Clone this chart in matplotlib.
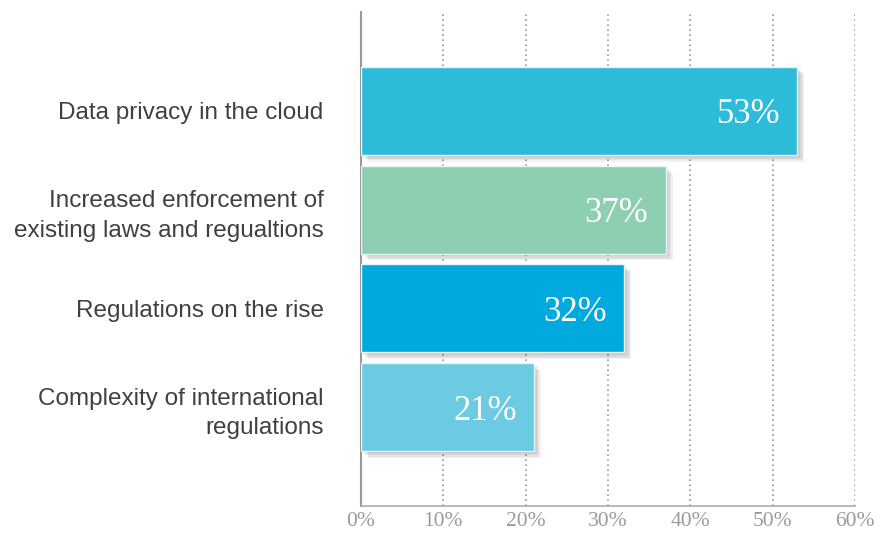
import matplotlib
matplotlib.use("Agg")
import matplotlib.pyplot as plt
import matplotlib.patheffects as pe
from matplotlib.ticker import FuncFormatter

categories = [
    "Data privacy in the cloud",
    "Increased enforcement of\nexisting laws and regualtions",
    "Regulations on the rise",
    "Complexity of international\nregulations",
]
values = [53, 37, 32, 21]
colours = ["#2cbcd9", "#8ecfb1", "#00aadf", "#6ccae2"]
x_ticks = [0, 10, 20, 30, 40, 50, 60]

fig = plt.figure(figsize=(8.78, 5.33), dpi=100)
ax = fig.add_axes([0.4112, 0.0507, 0.5626, 0.9268])

ypos = list(range(len(categories)))
bars = ax.barh(ypos, values, height=0.89, color=colours,
               edgecolor="#e8f4f7", linewidth=1.0, zorder=3)
# soft drop shadow, built from a few faint offset copies
shadow = [pe.SimplePatchShadow(offset=(d, -d), shadow_rgbFace="#444444", alpha=0.07)
          for d in (1, 2, 3, 4, 5)]
for b in bars:
    b.set_path_effects(shadow + [pe.Normal()])

for y, v in zip(ypos, values):
    ax.text(v - 2.1, y + 0.04, f"{v}%", ha="right", va="center",
            color="white", fontsize=25, family="Liberation Serif", zorder=4)

ax.set_xlim(0, 60)
ax.set_ylim(4, -1)
ax.set_xticks(x_ticks)
ax.xaxis.set_major_formatter(FuncFormatter(lambda v, p: f"{int(v)}%"))
ax.set_yticks(ypos)
ax.set_yticklabels(categories, fontsize=17.5, color="#404040",
                   family="Liberation Sans", linespacing=1.45)
ax.tick_params(axis="y", length=0, pad=27)
ax.tick_params(axis="x", length=0, pad=4, labelcolor="#9a9a9a", labelsize=15.5)
for lab in ax.get_xticklabels():
    lab.set_family("Liberation Serif")

ax.grid(axis="x", color="#999999", linestyle=(0, (1, 2)), linewidth=1.2, zorder=0)
ax.set_axisbelow(True)
for s in ["top", "right"]:
    ax.spines[s].set_visible(False)
ax.spines["left"].set_color("#999999")
ax.spines["left"].set_linewidth(1.5)
ax.spines["bottom"].set_color("#aaaaaa")
ax.spines["bottom"].set_linewidth(1.2)

fig.savefig("out.png", dpi=100)
